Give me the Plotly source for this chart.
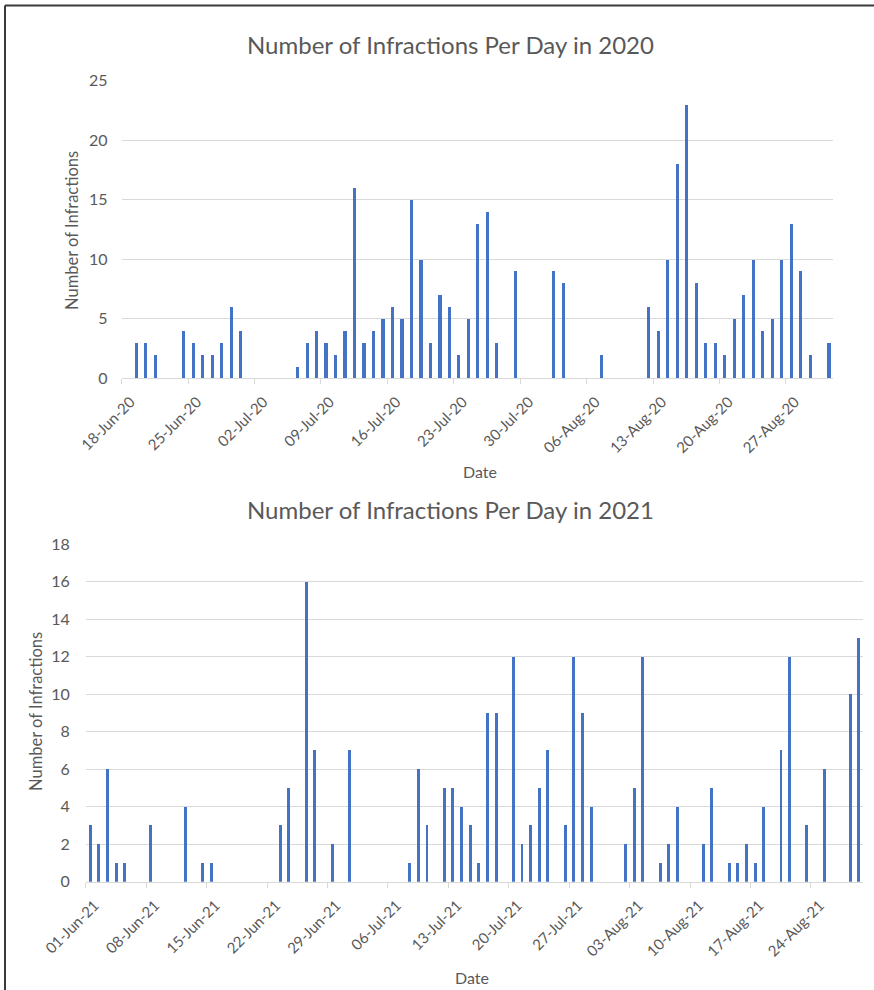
import plotly.graph_objects as go

# ---------------- data ----------------
dates_2020 = [
    "2020-06-19", "2020-06-20", "2020-06-21", "2020-06-24", "2020-06-25", "2020-06-26",
    "2020-06-27", "2020-06-28", "2020-06-29", "2020-06-30", "2020-07-06", "2020-07-07",
    "2020-07-08", "2020-07-09", "2020-07-10", "2020-07-11", "2020-07-12", "2020-07-13",
    "2020-07-14", "2020-07-15", "2020-07-16", "2020-07-17", "2020-07-18", "2020-07-19",
    "2020-07-20", "2020-07-21", "2020-07-22", "2020-07-23", "2020-07-24", "2020-07-25",
    "2020-07-26", "2020-07-27", "2020-07-29", "2020-08-02", "2020-08-03", "2020-08-07",
    "2020-08-12", "2020-08-13", "2020-08-14", "2020-08-15", "2020-08-16", "2020-08-17",
    "2020-08-18", "2020-08-19", "2020-08-20", "2020-08-21", "2020-08-22", "2020-08-23",
    "2020-08-24", "2020-08-25", "2020-08-26", "2020-08-27", "2020-08-28", "2020-08-29",
    "2020-08-31",
]
counts_2020 = [
    3, 3, 2, 4, 3, 2,
    2, 3, 6, 4, 1, 3,
    4, 3, 2, 4, 16, 3,
    4, 5, 6, 5, 15, 10,
    3, 7, 6, 2, 5, 13,
    14, 3, 9, 9, 8, 2,
    6, 4, 10, 18, 23, 8,
    3, 3, 2, 5, 7, 10,
    4, 5, 10, 13, 9, 2,
    3,
]

dates_2021 = [
    "2021-06-01", "2021-06-02", "2021-06-03", "2021-06-04", "2021-06-05", "2021-06-08",
    "2021-06-12", "2021-06-14", "2021-06-15", "2021-06-23", "2021-06-24", "2021-06-26",
    "2021-06-27", "2021-06-29", "2021-07-01", "2021-07-08", "2021-07-09", "2021-07-10",
    "2021-07-12", "2021-07-13", "2021-07-14", "2021-07-15", "2021-07-16", "2021-07-17",
    "2021-07-18", "2021-07-20", "2021-07-21", "2021-07-22", "2021-07-23", "2021-07-24",
    "2021-07-26", "2021-07-27", "2021-07-28", "2021-07-29", "2021-08-02", "2021-08-03",
    "2021-08-04", "2021-08-06", "2021-08-07", "2021-08-08", "2021-08-11", "2021-08-12",
    "2021-08-14", "2021-08-15", "2021-08-16", "2021-08-17", "2021-08-18", "2021-08-20",
    "2021-08-21", "2021-08-23", "2021-08-25", "2021-08-28", "2021-08-29",
]
counts_2021 = [
    3, 2, 6, 1, 1, 3,
    4, 1, 1, 3, 5, 16,
    7, 2, 7, 1, 6, 3,
    5, 5, 4, 3, 1, 9,
    9, 12, 2, 3, 5, 7,
    3, 12, 9, 4, 2, 5,
    12, 1, 2, 4, 2, 5,
    1, 1, 2, 1, 4, 7,
    12, 3, 6, 10, 13,
]

titles = ["Number of Infractions Per Day in 2020", "Number of Infractions Per Day in 2021"]
y_title = "Number of Infractions"
x_title = "Date"

# ---------------- layout constants ----------------
W, H = 874, 990
FONT = "Lato"
GREY_TXT = "#595959"
GRID = "#d9d9d9"
BAR = "#4472C4"
DAY_MS = 86400000


def px(x):
    return x / W


def py(y):
    return 1 - y / H


fig = go.Figure()

fig.add_trace(go.Bar(
    x=dates_2020, y=counts_2020, xaxis="x", yaxis="y",
    marker=dict(color=BAR, line=dict(width=0)),
    xperiod=DAY_MS, xperiodalignment="middle", width=0.33 * DAY_MS,
    showlegend=False,
))
fig.add_trace(go.Bar(
    x=dates_2021, y=counts_2021, xaxis="x2", yaxis="y2",
    marker=dict(color=BAR, line=dict(width=0)),
    xperiod=DAY_MS, xperiodalignment="middle", width=0.34 * DAY_MS,
    showlegend=False,
))

xtickfont = dict(family=FONT, size=15, color=GREY_TXT)
ytickfont = dict(family=FONT, size=16, color=GREY_TXT)

xcommon = dict(
    type="date", tickformat="%d-%b-%y", dtick=7 * DAY_MS, tickangle=-45,
    showgrid=False, zeroline=False, showline=True, linecolor=GRID, linewidth=1,
    ticks="outside", ticklen=5, tickcolor=GRID, tickwidth=1,
    tickfont=xtickfont, fixedrange=True, automargin=False,
    ticklabelshift=9, ticklabelstandoff=3,
)
ycommon = dict(
    showgrid=True, gridcolor=GRID, gridwidth=1, zeroline=False, showline=False,
    ticks="", tickfont=ytickfont, fixedrange=True, automargin=False,
)

fig.update_layout(
    width=W, height=H, autosize=False,
    margin=dict(l=0, r=0, t=0, b=0, pad=0, autoexpand=False),
    paper_bgcolor="white", plot_bgcolor="white",
    bargap=0,
    xaxis=dict(**xcommon, domain=[px(121.6), px(833.4)], anchor="y",
               range=["2020-06-18", "2020-09-01"], tick0="2020-06-18"),
    yaxis=dict(**ycommon, domain=[py(378.3), py(80.7)], anchor="x",
               range=[0, 25], dtick=5, ticklabelstandoff=13),
    xaxis2=dict(**xcommon, domain=[px(85.7), px(862.7)], anchor="y2",
                range=["2021-06-01", "2021-08-30"], tick0="2021-06-01"),
    yaxis2=dict(**ycommon, domain=[py(881.7), py(544)], anchor="x2",
                range=[0, 18], dtick=2, ticklabelstandoff=15),
)

ann = []
ann.append(dict(text=titles[0], x=px(450), y=py(45), xref="paper", yref="paper",
                showarrow=False, xanchor="center", yanchor="middle",
                font=dict(family=FONT, size=24, color=GREY_TXT)))
ann.append(dict(text=titles[1], x=px(450), y=py(509), xref="paper", yref="paper",
                showarrow=False, xanchor="center", yanchor="middle",
                font=dict(family=FONT, size=24, color=GREY_TXT)))
ann.append(dict(text=y_title, x=px(72), y=py(231), xref="paper", yref="paper",
                showarrow=False, textangle=-90, xanchor="center", yanchor="middle",
                font=dict(family=FONT, size=16.5, color=GREY_TXT)))
ann.append(dict(text=y_title, x=px(36), y=py(712), xref="paper", yref="paper",
                showarrow=False, textangle=-90, xanchor="center", yanchor="middle",
                font=dict(family=FONT, size=16.5, color=GREY_TXT)))
ann.append(dict(text=x_title, x=px(480), y=py(472), xref="paper", yref="paper",
                showarrow=False, xanchor="center", yanchor="middle",
                font=dict(family=FONT, size=16, color=GREY_TXT)))
ann.append(dict(text=x_title, x=px(472), y=py(977), xref="paper", yref="paper",
                showarrow=False, xanchor="center", yanchor="middle",
                font=dict(family=FONT, size=16, color=GREY_TXT)))
fig.update_layout(annotations=ann)

# screenshot frame (top and left edges)
fig.add_shape(type="line", xref="paper", yref="paper", x0=px(5), x1=1, y0=py(5.5), y1=py(5.5),
              line=dict(color="#3a3a3a", width=2))
fig.add_shape(type="line", xref="paper", yref="paper", x0=px(5), x1=px(5), y0=py(5.5), y1=0,
              line=dict(color="#3a3a3a", width=2))

fig.write_html("out.html", config={"displayModeBar": False},
               post_script="document.body.style.margin='0';")
